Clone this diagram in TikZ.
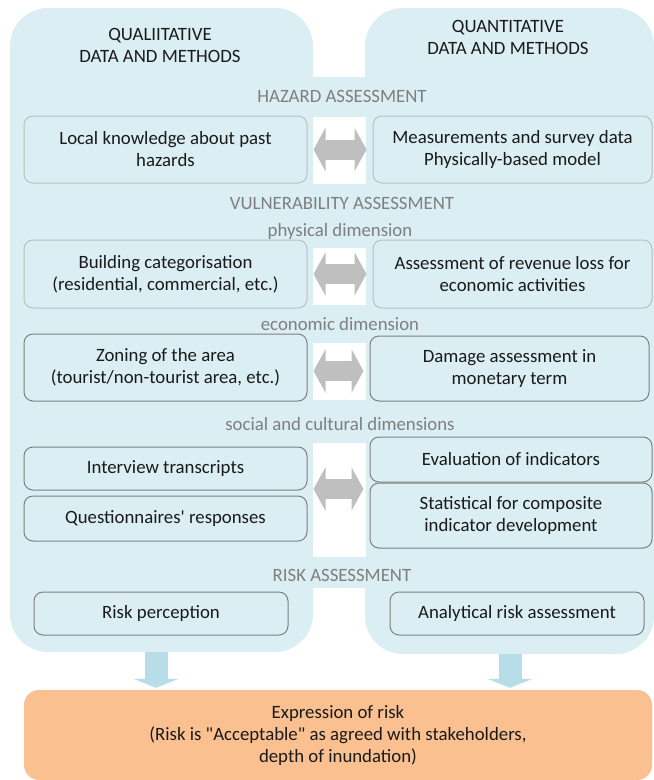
\documentclass[tikz,border=0pt]{standalone}
\usepackage{fontspec}
\newfontfamily\diagfont{Carlito}
\usetikzlibrary{arrows.meta,calc}
\definecolor{panelblue}{HTML}{DAEEF3}
\definecolor{arrowblue}{HTML}{B7DEE8}
\definecolor{riskorange}{HTML}{FAC090}
\definecolor{arrowgray}{HTML}{BFBFBF}
\definecolor{lightedge}{HTML}{BFBFBF}
\definecolor{darkedge}{HTML}{808080}
\definecolor{labelgray}{HTML}{7F7F7F}
\definecolor{textblack}{HTML}{1A1A1A}

\begin{document}
\begin{tikzpicture}[x=1pt,y=-1pt]
\tikzstyle{every node}+=[font=\diagfont\fontsize{18.8}{22}\selectfont,inner sep=2pt,align=center]
\tikzstyle{panel}=[fill=panelblue,rounded corners=38pt]
\tikzstyle{head}=[text=textblack]
\tikzstyle{section}=[text=labelgray]
\tikzstyle{box}=[fill=panelblue,rounded corners=9pt,text=textblack,line width=1pt]
\tikzstyle{lbox}=[box,draw=lightedge]
\tikzstyle{dbox}=[box,draw=darkedge]
\tikzstyle{dblarrow}=[draw=arrowgray,line width=20pt,{Triangle[width=43pt,length=12pt]}-{Triangle[width=43pt,length=12pt]},shorten <=6pt,shorten >=6pt]
\tikzstyle{downarrow}=[draw=arrowblue,line width=23pt,-{Triangle[width=45pt,length=9pt]},shorten >=2pt]
\useasboundingbox (0,0) rectangle (654,780);
\fill[panel] (10,8) rectangle (313,652);
\fill[panel] (365,8) rectangle (654,654);
\fill[panelblue] (312,77) rectangle (366,588);
\fill[white] (313,117) rectangle (366,184);
\fill[white] (313,248) rectangle (366,305);
\fill[white] (313,343) rectangle (366,400);
\fill[white] (313,443) rectangle (366,557);
\node[head] (qual) at (160,45) {QUALIITATIVE\\DATA AND METHODS};
\node[head] (quant) at (508,37) {QUANTITATIVE\\DATA AND METHODS};
\node[section] (hazard) at (342,96) {HAZARD ASSESSMENT};
\node[lbox,minimum width=283pt,minimum height=67pt] (haz-l) at (165.5,149.5) {Local knowledge about past\\hazards};
\node[lbox,minimum width=279pt,minimum height=67pt] (haz-r) at (512.5,149.5) {Measurements and survey data\\Physically-based model};
\draw[dblarrow] (haz-l) -- (haz-r);
\node[section] (vuln) at (342,203) {VULNERABILITY ASSESSMENT};
\node[section] (phys) at (340,231) {physical dimension};
\node[lbox,minimum width=283pt,minimum height=68pt] (phy-l) at (165.5,274) {Building categorisation\\(residential, commercial, etc.)};
\node[lbox,minimum width=279pt,minimum height=68pt] (phy-r) at (512.5,274) {Assessment of revenue loss for\\economic activities};
\draw[dblarrow] (phy-l) -- (phy-r);
\node[section] (econ) at (340,324) {economic dimension};
\node[dbox,minimum width=283pt,minimum height=67pt] (eco-l) at (165.5,367.5) {Zoning of the area\\(tourist/non-tourist area, etc.)};
\node[dbox,minimum width=279pt,minimum height=65pt] (eco-r) at (509.5,368.5) {Damage assessment in\\monetary term};
\draw[dblarrow] (eco-l.east |- 0,371) -- (eco-r.west |- 0,371);
\node[section] (social) at (340,424) {social and cultural dimensions};
\node[dbox,minimum width=283pt,minimum height=43pt] (intv) at (165.5,468.5) {Interview transcripts};
\node[dbox,minimum width=283pt,minimum height=45pt] (quest) at (165.5,518.5) {Questionnaires' responses};
\node[dbox,minimum width=282pt,minimum height=45pt] (eval) at (511,459.5) {Evaluation of indicators};
\node[dbox,minimum width=282pt,minimum height=65pt] (stat) at (511,515.5) {Statistical for composite\\indicator development};
\coordinate (soc-l) at ($(intv.south east)!.5!(quest.north east)+(0,-4)$);
\draw[dblarrow] (soc-l) -- (soc-l -| stat.west);
\node[section] (risk) at (342,575) {RISK ASSESSMENT};
\node[dbox,minimum width=254pt,minimum height=43pt] (rperc) at (161,613.5) {Risk perception};
\node[dbox,minimum width=254pt,minimum height=43pt] (ana) at (517,613.5) {Analytical risk assessment};
\node[fill=riskorange,rounded corners=15pt,minimum width=628pt,minimum height=90pt,text=textblack] (expr) at (338,735) {Expression of risk\\(Risk is "Acceptable" as agreed with stakeholders,\\depth of inundation)};
\coordinate (qual-out) at (156,652);
\coordinate (quant-out) at (510,654);
\draw[downarrow] (qual-out) -- (qual-out |- expr.north);
\draw[downarrow] (quant-out) -- (quant-out |- expr.north);
\end{tikzpicture}
\end{document}
